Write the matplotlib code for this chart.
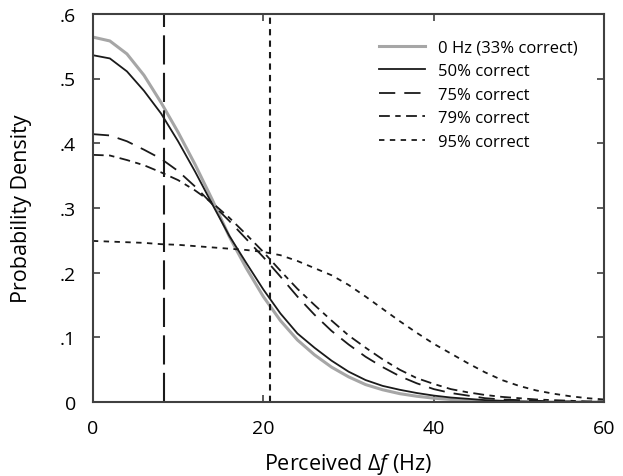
import matplotlib
matplotlib.use("Agg")
import matplotlib.pyplot as plt

plt.rcParams['font.family'] = ['Open Sans', 'DejaVu Sans']
plt.rcParams['mathtext.fontset'] = 'custom'
plt.rcParams['mathtext.rm'] = 'Open Sans'
plt.rcParams['mathtext.it'] = 'Open Sans:italic'

freq = [0, 2, 4, 6, 8, 10, 12, 14, 16, 18, 20, 22, 24, 26, 28, 30,
        32, 34, 36, 38, 40, 42, 44, 46, 48, 50, 52, 54, 56, 58, 60]

dens_0hz = [0.564, 0.558, 0.538, 0.505, 0.463, 0.417, 0.367, 0.313, 0.256, 0.207, 0.163,
            0.126, 0.096, 0.073, 0.054, 0.039, 0.027, 0.019, 0.013, 0.009, 0.006,
            0.004, 0.002, 0.001, 0.0, 0.0, 0.0, 0.0, 0.0, 0.0, 0.0]
dens_50 = [0.536, 0.531, 0.511, 0.481, 0.446, 0.403, 0.356, 0.306, 0.257, 0.215, 0.174,
           0.137, 0.106, 0.084, 0.064, 0.047, 0.034, 0.025, 0.019, 0.014, 0.010,
           0.007, 0.005, 0.003, 0.002, 0.001, 0.0005, 0.0, 0.0, 0.0, 0.0]
dens_75 = [0.414, 0.412, 0.403, 0.390, 0.376, 0.357, 0.333, 0.306, 0.280, 0.252, 0.224,
           0.194, 0.163, 0.135, 0.110, 0.089, 0.070, 0.054, 0.040, 0.029, 0.020,
           0.014, 0.010, 0.006, 0.004, 0.003, 0.002, 0.001, 0.001, 0.0, 0.0]
dens_79 = [0.382, 0.381, 0.374, 0.366, 0.355, 0.343, 0.327, 0.308, 0.285, 0.259, 0.232,
           0.203, 0.175, 0.150, 0.126, 0.103, 0.084, 0.066, 0.050, 0.037, 0.028,
           0.020, 0.015, 0.011, 0.008, 0.006, 0.004, 0.003, 0.002, 0.001, 0.001]
dens_95 = [0.249, 0.248, 0.247, 0.246, 0.244, 0.243, 0.241, 0.239, 0.237, 0.235, 0.232,
           0.227, 0.218, 0.207, 0.196, 0.181, 0.163, 0.144, 0.125, 0.107, 0.090,
           0.075, 0.060, 0.046, 0.034, 0.025, 0.018, 0.013, 0.009, 0.006, 0.004]

labels = ["0 Hz (33% correct)", "50% correct", "75% correct", "79% correct", "95% correct"]
thresh_75 = 8.4
thresh_95 = 20.8

xticks = [0, 20, 40, 60]
yticks = [0, 0.1, 0.2, 0.3, 0.4, 0.5, 0.6]
ytick_labels = ["0", ".1", ".2", ".3", ".4", ".5", ".6"]

fig = plt.figure(figsize=(6.23, 4.77), dpi=100)
ax = fig.add_axes([0.149, 0.155, 0.821, 0.814])

ax.plot(freq, dens_0hz, color='#a6a6a6', lw=2.2, label=labels[0])
ax.plot(freq, dens_50, color='#1a1a1a', lw=1.3, label=labels[1])
ax.plot(freq, dens_75, color='#1a1a1a', lw=1.3, linestyle=(0, (9, 5)), label=labels[2])
ax.plot(freq, dens_79, color='#1a1a1a', lw=1.3, linestyle=(0, (6, 3, 3, 3)), label=labels[3])
ax.plot(freq, dens_95, color='#1a1a1a', lw=1.3, linestyle=(0, (3, 3)), label=labels[4])

ax.axvline(thresh_75, color='#1a1a1a', lw=1.5, linestyle=(0, (14, 4)))
ax.axvline(thresh_95, color='#1a1a1a', lw=1.5, linestyle=(0, (3, 2.5)))

ax.set_xlim(0, 60)
ax.set_ylim(0, 0.6)
ax.set_xticks(xticks)
ax.set_xticklabels([str(t) for t in xticks])
ax.set_yticks(yticks)
ax.set_yticklabels(ytick_labels)
ax.tick_params(direction='in', length=5, width=1.2, top=True, right=True,
               labelsize=14, color='#404040', pad=12)
for s in ax.spines.values():
    s.set_color('#404040')
    s.set_linewidth(1.5)

ax.set_xlabel(r"Perceived $\Delta\mathit{f}\ $(Hz)", fontsize=15.5, labelpad=10)
ax.set_ylabel("Probability Density", fontsize=15.5, labelpad=20)

leg = ax.legend(loc='upper right', frameon=False, fontsize=12, handlelength=2.8,
                handletextpad=0.75, labelspacing=0.45, bbox_to_anchor=(0.977, 0.972))

fig.savefig("out.png", dpi=100)
